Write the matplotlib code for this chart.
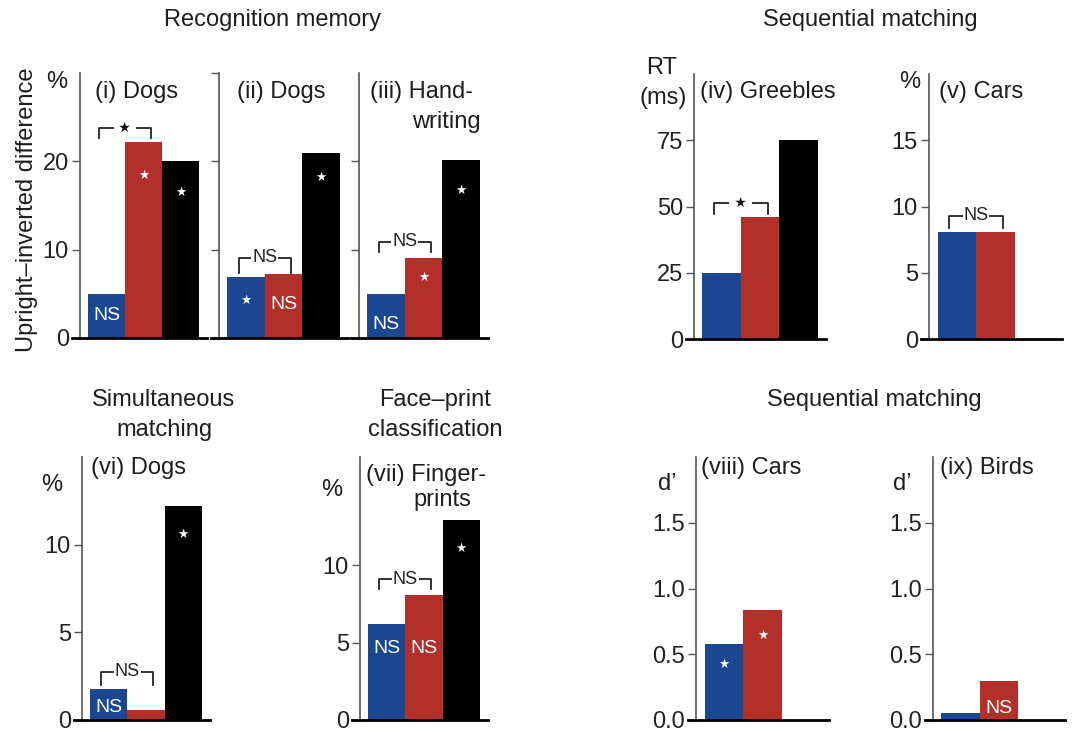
import matplotlib
matplotlib.use("Agg")
import matplotlib.pyplot as plt

plt.rcParams['font.family'] = ['Liberation Sans', 'DejaVu Sans']

W, H = 1072, 732
colors = ['#1b4792', '#b3302a', '#000000']
STAR = '\u2605'

# bar heights per panel
vals_i = [5.0, 22.2, 20.0]
vals_ii = [6.9, 7.2, 20.9]
vals_iii = [5.0, 9.1, 20.1]
vals_iv = [25, 46, 75]
vals_v = [8.1, 8.1]
vals_vi = [1.75, 0.55, 12.2]
vals_vii = [6.2, 8.1, 12.9]
vals_viii = [0.575, 0.84]
vals_ix = [0.05, 0.30]

# white marks written inside the bars: (bar index, text, height)
marks_i = [(0, 'NS', 2.6), (1, '*', 18.4), (2, '*', 16.5)]
marks_ii = [(0, '*', 4.2), (1, 'NS', 3.8), (2, '*', 18.2)]
marks_iii = [(0, 'NS', 1.5), (1, '*', 6.8), (2, '*', 16.7)]
marks_vi = [(0, 'NS', 0.7), (2, '*', 10.6)]
marks_vii = [(0, 'NS', 4.6), (1, 'NS', 4.6), (2, '*', 11.1)]
marks_viii = [(0, '*', 0.42), (1, '*', 0.64)]
marks_ix = [(1, 'NS', 0.09)]

# comparison brackets between first two bars: (text, leg bottom, top)
brk_i = ('*', 22.6, 23.8)
brk_ii = ('NS', 7.4, 9.1)
brk_iii = ('NS', 9.7, 10.9)
brk_iv = ('*', 47.3, 51.5)
brk_v = ('NS', 8.4, 9.3)
brk_vi = ('NS', 2.0, 2.75)
brk_vii = ('NS', 8.5, 9.1)

fig = plt.figure(figsize=(W / 100, H / 100), dpi=100)


def fx(x):
    return x / W


def fy(y):
    return 1 - y / H


def panel(left, right, base, top, vals, ylim, ticks, ticklabels, marks=(), brk=None):
    ax = fig.add_axes([fx(left), fy(base), (right - left) / W, (base - top) / H])
    ax.bar(range(len(vals)), vals, width=1.0, color=colors[:len(vals)], zorder=2)
    ax.set_xlim(-0.72, 2.72)
    ax.set_ylim(*ylim)
    ax.set_xticks([])
    ax.set_yticks(ticks)
    ax.set_yticklabels(ticklabels, fontsize=17, color='#222222')
    ax.tick_params(axis='y', length=6, width=1, color='#555555', pad=2)
    for s in ['top', 'right']:
        ax.spines[s].set_visible(False)
    ax.spines['left'].set_color('#555555')
    ax.spines['left'].set_linewidth(1.2)
    ax.spines['bottom'].set_color('black')
    ax.spines['bottom'].set_linewidth(2)
    ax.spines['bottom'].set_bounds(-0.93, 2.72)
    for i, t, y in marks:
        if t == '*':
            ax.text(i, y, STAR, color='white', fontsize=9, family='DejaVu Sans',
                    ha='center', va='center', zorder=3)
        else:
            ax.text(i, y, t, color='white', fontsize=14, ha='center', va='center', zorder=3)
    if brk is not None:
        t, lo, hi = brk
        x0, x1 = -0.2, 1.2
        ax.plot([x0, x0, x1, x1], [lo, hi, hi, lo], color='#222222', lw=1.3,
                clip_on=False, zorder=3)
        if t == '*':
            ax.text((x0 + x1) / 2, hi, ' ' + STAR + ' ', fontsize=10, family='DejaVu Sans',
                    ha='center', va='center', color='#111111', zorder=4,
                    bbox=dict(facecolor='white', edgecolor='none', pad=0.5))
        else:
            ax.text((x0 + x1) / 2, hi, t, fontsize=13, ha='center', va='center',
                    color='#222222', zorder=4,
                    bbox=dict(facecolor='white', edgecolor='none', pad=0.5))
    return ax


panel(80, 207, 338, 73, vals_i, (0, 30), [0, 10, 20], ['0', '10', '20'], marks_i, brk_i)
panel(219, 348, 338, 73, vals_ii, (0, 30), [0, 10, 20, 30], [], marks_ii, brk_ii)
panel(359, 488, 338, 73, vals_iii, (0, 30), [0, 10, 20], [], marks_iii, brk_iii)
panel(694, 826, 339, 74, vals_iv, (0, 100), [0, 25, 50, 75], ['0', '25', '50', '75'], (), brk_iv)
panel(929, 1062, 339, 74, vals_v, (0, 20), [0, 5, 10, 15], ['0', '5', '10', '15'], (), brk_v)
panel(82, 210, 720, 457, vals_vi, (0, 15), [0, 5, 10], ['0', '5', '10'], marks_vi, brk_vi)
panel(360, 488, 720, 457, vals_vii, (0, 17), [0, 5, 10], ['0', '5', '10'], marks_vii, brk_vii)
panel(696, 829, 720, 457, vals_viii, (0, 2), [0, 0.5, 1.0, 1.5], ['0.0', '0.5', '1.0', '1.5'], marks_viii)
panel(933, 1065, 720, 457, vals_ix, (0, 2), [0, 0.5, 1.0, 1.5], ['0.0', '0.5', '1.0', '1.5'], marks_ix)

fs = 17
tc = '#1e1e1e'


def label(x, y, s, ha='left', **kw):
    fig.text(fx(x), fy(y), s, fontsize=fs, ha=ha, va='center', color=tc, **kw)


# panel titles
label(95, 92, '(i) Dogs')
label(237, 92, '(ii) Dogs')
label(370, 92, '(iii) Hand-')
label(412, 122, 'writing')
label(700, 92, '(iv) Greebles')
label(939, 92, '(v) Cars')
label(91, 468, '(vi) Dogs')
label(366, 475, '(vii) Finger-')
label(413, 500, 'prints')
label(701, 468, '(viii) Cars')
label(940, 468, '(ix) Birds')

# units
label(57, 82, '%', ha='center')
label(662, 68, 'RT', ha='center')
label(663, 98, '(ms)', ha='center')
label(910, 82, '%', ha='center')
label(52, 485, '%', ha='center')
label(332, 490, '%', ha='center')
label(667, 484, 'd\u2019', ha='center')
label(902, 484, 'd\u2019', ha='center')

# group headings
label(272, 20, 'Recognition memory', ha='center')
label(870, 20, 'Sequential matching', ha='center')
label(164, 400, 'Simultaneous', ha='center')
label(164, 430, 'matching', ha='center')
label(435, 400, 'Face\u2013print', ha='center')
label(435, 430, 'classification', ha='center')
label(874, 400, 'Sequential matching', ha='center')

fig.text(fx(27), fy(210), 'Upright\u2013inverted difference', fontsize=fs, rotation=90,
         ha='center', va='center', color=tc)

fig.savefig('out.png', dpi=100)
